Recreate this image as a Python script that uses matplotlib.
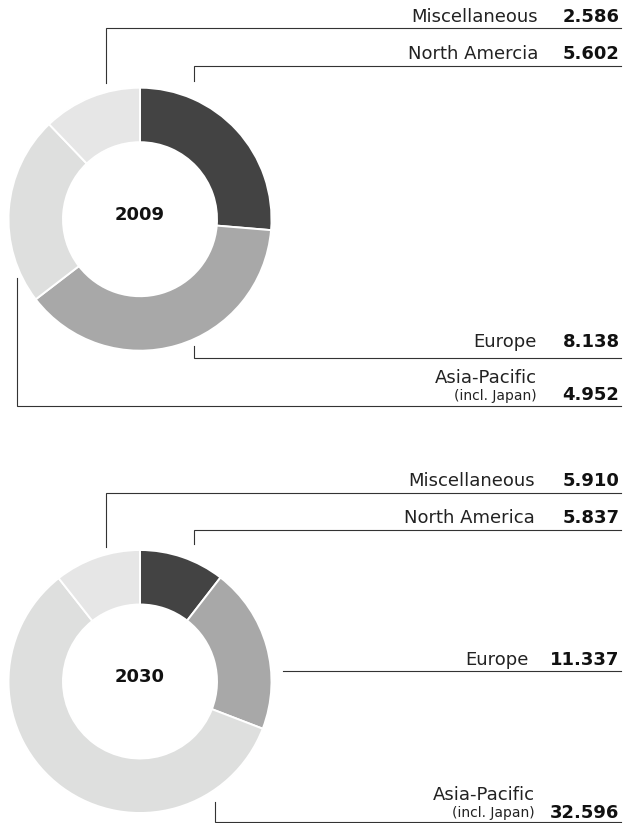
import matplotlib.pyplot as plt

# Market volume by region, 2009 vs 2030
regions = ["North America", "Europe", "Asia-Pacific", "Miscellaneous"]
names_2009 = ["North Amercia", "Europe", "Asia-Pacific", "Miscellaneous"]
values_2009 = [5.602, 8.138, 4.952, 2.586]
values_2030 = [5.837, 11.337, 32.596, 5.910]
value_labels_2009 = ["5.602", "8.138", "4.952", "2.586"]
value_labels_2030 = ["5.837", "11.337", "32.596", "5.910"]
years = ["2009", "2030"]

colors = ["#434343", "#a8a8a8", "#dedfde", "#e6e6e6"]
line_color = "#333333"

W, H = 625, 823
fig = plt.figure(figsize=(W / 100, H / 100), dpi=100)
ax = fig.add_axes([0, 0, 1, 1])


def Y(py):
    # pixel rows counted from the top
    return H - py


def donut(values, cy, year):
    ax.pie(values, colors=colors, startangle=90, counterclock=False,
           center=(140, Y(cy)), radius=131.5,
           wedgeprops=dict(width=54.5, edgecolor="white", linewidth=1.4))
    ax.text(140, Y(cy - 4), year, ha="center", va="center",
            fontsize=13, fontweight="bold", color="#111111")


def label(name, value, label_right, baseline, sub=None):
    ax.text(label_right, Y(baseline), name, ha="right", va="baseline",
            fontsize=13, color="#222222")
    vy = baseline
    if sub is not None:
        vy = baseline + 17
        ax.text(label_right, Y(vy), sub, ha="right", va="baseline",
                fontsize=10, color="#222222")
    ax.text(619.5, Y(vy), value, ha="right", va="baseline",
            fontsize=13, fontweight="bold", color="#111111")


def leader(x0, y_line, y_end):
    ax.plot([x0, x0, 621], [Y(y_end), Y(y_line), Y(y_line)],
            color=line_color, lw=0.8, solid_joinstyle="miter")


# 2009
donut(values_2009, 219.2, years[0])
label(names_2009[3], value_labels_2009[3], 538, 21.7)
leader(106, 28.3, 82.7)
label(names_2009[0], value_labels_2009[0], 538, 59.3)
leader(193.7, 65.7, 80.7)
label(names_2009[1], value_labels_2009[1], 537, 347.3)
leader(193.7, 358.3, 346)
label(names_2009[2], value_labels_2009[2], 537, 383, sub="(incl. Japan)")
leader(16.7, 405.5, 278.3)

# 2030
donut(values_2030, 681.5, years[1])
label(regions[3], value_labels_2030[3], 535, 486)
leader(106, 492.5, 546.7)
label(regions[0], value_labels_2030[0], 535, 523.3)
leader(193.7, 529.5, 544)
label(regions[1], value_labels_2030[1], 529, 665)
leader(282.7, 670.7, 670.7)
label(regions[2], value_labels_2030[2], 535, 800.5, sub="(incl. Japan)")
leader(215, 821.5, 802.3)

ax.set_xlim(0, W)
ax.set_ylim(0, H)
ax.set_aspect("equal")
ax.axis("off")

fig.savefig("out.png", dpi=100, facecolor="white")
